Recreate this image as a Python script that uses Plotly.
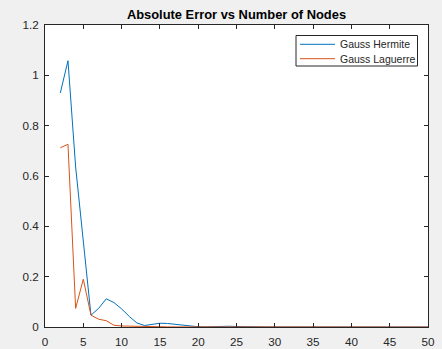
import plotly.graph_objects as go

nodes = list(range(2, 51))

hermite_err = [0.93, 1.058, 0.636, 0.334, 0.047, 0.074, 0.112, 0.097, 0.072, 0.042,
               0.016, 0.006, 0.012, 0.015, 0.014, 0.011, 0.007, 0.003, 0.001, 0.0005,
               0.002, 0.003, 0.003, 0.002, 0.001, 0.0006, 0.0004, 0.0003, 0.0002, 0.0002,
               0.0001, 0.0001, 0.0001, 0.0001, 0.0, 0.0, 0.0, 0.0, 0.0, 0.0,
               0.0, 0.0, 0.0, 0.0, 0.0, 0.0, 0.0, 0.0, 0.0]

laguerre_err = [0.712, 0.726, 0.074, 0.19, 0.047, 0.031, 0.025, 0.007, 0.004, 0.003,
                0.002, 0.001, 0.0008, 0.0006, 0.0005, 0.0004, 0.0003, 0.0002, 0.0002, 0.0001,
                0.0001, 0.0001, 0.0, 0.0, 0.0, 0.0, 0.0, 0.0, 0.0, 0.0,
                0.0, 0.0, 0.0, 0.0, 0.0, 0.0, 0.0, 0.0, 0.0, 0.0,
                0.0, 0.0, 0.0, 0.0, 0.0, 0.0, 0.0, 0.0, 0.0]

series_names = ["Gauss Hermite", "Gauss Laguerre"]
colors = ["#0072BD", "#D95319"]

FONT = "Liberation Sans, Arial, sans-serif"
W, H = 442, 349
ML, MR, MT, MB = 45, 14, 25, 22
PW, PH = W - ML - MR, H - MT - MB


def px_x(px):
    return (px - ML) / PW


def px_y(py):
    return (H - MB - py) / PH


fig = go.Figure()
for name, vals, col in zip(series_names, [hermite_err, laguerre_err], colors):
    fig.add_trace(go.Scatter(x=nodes, y=vals, mode="lines", name=name,
                             line=dict(color=col, width=1), showlegend=False))

axis_common = dict(
    showline=True, linecolor="#262626", linewidth=1, mirror="ticks",
    ticks="inside", ticklen=4, tickcolor="#262626", tickwidth=1,
    showgrid=False, zeroline=False, automargin=False,
    tickfont=dict(family=FONT, size=11.7, color="#262626"),
)

fig.update_xaxes(range=[0, 50], dtick=5, tick0=0, ticklabelstandoff=4, **axis_common)
fig.update_yaxes(range=[0, 1.2], dtick=0.2, tick0=0, ticklabelstandoff=3, **axis_common)

# legend box drawn manually to match the compact MATLAB legend
shapes = [dict(type="rect", xref="paper", yref="paper",
               x0=px_x(296), x1=px_x(417.5), y0=px_y(66), y1=px_y(35.5),
               line=dict(color="#262626", width=1), fillcolor="white", layer="above")]
annotations = []
row_y = [44.3, 58.7]
for name, col, ry in zip(series_names, colors, row_y):
    shapes.append(dict(type="line", xref="paper", yref="paper",
                       x0=px_x(300), x1=px_x(335), y0=px_y(ry), y1=px_y(ry),
                       line=dict(color=col, width=1), layer="above"))
    annotations.append(dict(text=name, xref="paper", yref="paper",
                            x=px_x(337.5), y=px_y(ry), xanchor="left", yanchor="middle",
                            showarrow=False,
                            font=dict(family=FONT, size=10.5, color="#262626")))

fig.update_layout(
    width=W, height=H,
    margin=dict(l=ML, r=MR, t=MT, b=MB, autoexpand=False),
    paper_bgcolor="#f0f0f0", plot_bgcolor="white",
    title=dict(text="<b>Absolute Error vs Number of Nodes</b>",
               x=0.535, xanchor="center", y=1 - 14.7 / H, yanchor="middle",
               automargin=False,
               font=dict(family=FONT, size=12.9, color="black")),
    shapes=shapes, annotations=annotations,
    showlegend=False,
)

fig.write_html("out.html")
